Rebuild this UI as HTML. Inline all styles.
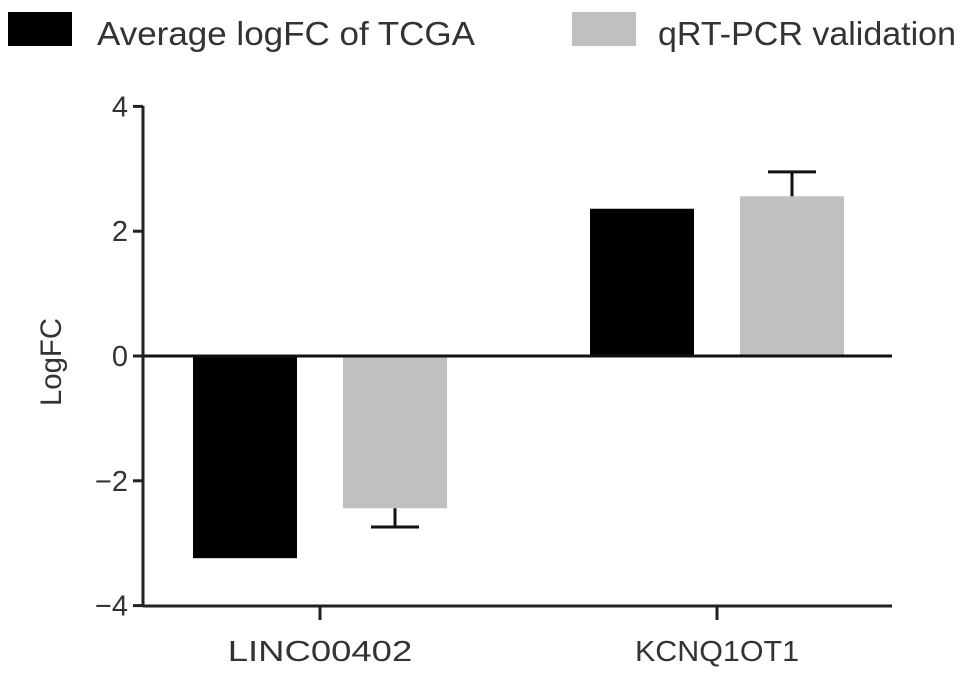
<!DOCTYPE html>
<html><head><meta charset="utf-8"><style>
body{margin:0;background:#fff}
svg text{font-family:"Liberation Sans",sans-serif;fill:#333}
</style></head><body>
<svg width="969" height="678">
<g>
<rect x="8" y="12" width="64" height="34" fill="#000"/>
<text x="97" y="45" font-size="33" textLength="378" lengthAdjust="spacingAndGlyphs">Average logFC of TCGA</text>
<rect x="572" y="12" width="64" height="34" fill="#c0c0c0"/>
<text x="658" y="45" font-size="33" textLength="298" lengthAdjust="spacingAndGlyphs">qRT-PCR validation</text>
</g>
<text transform="translate(61,362) rotate(-90)" text-anchor="middle" font-size="30" textLength="88" lengthAdjust="spacingAndGlyphs">LogFC</text>
<g id="plot"></g>
</svg>
<script>
const categories=["LINC00402","KCNQ1OT1"];
const tcga=[-3.24,2.36];
const qpcr=[-2.44,2.56];
const qpcrErr=[0.3,0.39];
const yTicks=[4,2,0,-2,-4];
const yTickLabels=["4","2","0","\u22122","\u22124"];
const NS="http://www.w3.org/2000/svg";
const g=document.getElementById('plot');
const y=v=>356-v*62.4;
const catX=i=>320+i*397;
function mk(t,a){const e=document.createElementNS(NS,t);for(const k in a)e.setAttribute(k,a[k]);g.appendChild(e);return e;}
yTicks.forEach((v,i)=>{
 const l=mk('line',{x1:133,x2:143,y1:y(v),y2:y(v),stroke:'#222','stroke-width':3});
 
 
 const t=mk('text',{x:128,y:y(v)+10,'text-anchor':'end','font-size':29});
 t.textContent=yTickLabels[i];
 
 
});
categories.forEach((c,i)=>{
 const cx=catX(i);
 const b1=mk('rect',{x:cx-127,width:104,y:Math.min(y(0),y(tcga[i])),height:Math.abs(y(tcga[i])-y(0)),fill:'#000'});
 
 
 const b2=mk('rect',{x:cx+23,width:104,y:Math.min(y(0),y(qpcr[i])),height:Math.abs(y(qpcr[i])-y(0)),fill:'#c0c0c0'});
 
 
 const s=qpcr[i]<0?-1:1, ex=cx+75, ye=y(qpcr[i]+s*qpcrErr[i]);
 const e1=mk('line',{x1:ex,x2:ex,y1:y(qpcr[i]),y2:ye,stroke:'#111','stroke-width':3});
 
 
 const e2=mk('line',{x1:ex-24,x2:ex+24,y1:ye,y2:ye,stroke:'#111','stroke-width':3});
 
 
 const tk=mk('line',{x1:cx,x2:cx,y1:606,y2:620,stroke:'#222','stroke-width':3});
 
 
 const t=mk('text',{x:cx,y:661,'text-anchor':'middle','font-size':29,textLength:c.length*20.5,lengthAdjust:'spacingAndGlyphs'});
 t.textContent=c;
 
 
});
const za=mk('line',{x1:143,x2:892,y1:y(0),y2:y(0),stroke:'#111','stroke-width':3});


const ba=mk('line',{x1:143,x2:892,y1:606,y2:606,stroke:'#222','stroke-width':3});


const ya=mk('line',{x1:143,x2:143,y1:106,y2:607,stroke:'#222','stroke-width':3});


</script>
</body></html>
